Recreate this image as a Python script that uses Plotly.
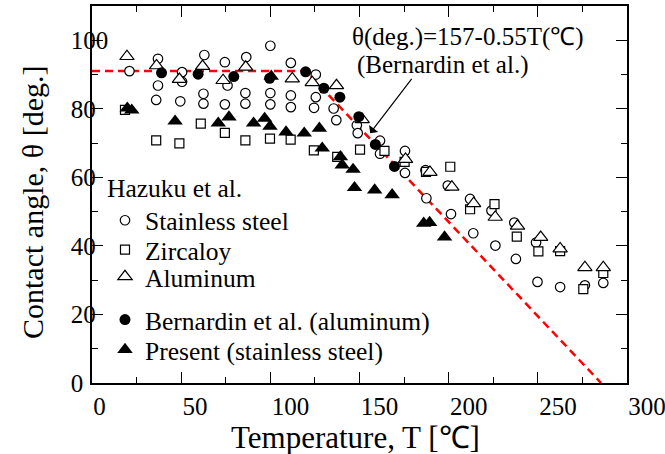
import plotly.graph_objects as go

# ---- measured contact angles (T in degC, theta in deg) ----
# Hazuku et al., stainless steel
ss_T = [21, 37, 37, 36, 50.5, 50.5, 49.5, 63, 62.5, 62.5, 74.5, 76, 74.5,
        86.5, 86, 86, 100, 100, 100, 111.5, 111.5, 111.5, 125.5, 125.5, 124.5,
        135.5, 137, 148.5, 149, 161.5, 161.5, 175.5, 175.5, 187, 187.5,
        199.5, 201.3, 212, 213.8, 224, 226.2, 236.8, 237.7, 249, 249.8,
        262.5, 276.4, 286.7]
ss_theta = [91, 94.6, 86.8, 82.6, 90.7, 87.9, 82.2, 95.7, 84.4, 81.5, 93.6, 86.8, 81.3,
            95.1, 84.6, 81.5, 98.4, 84.6, 81.3, 93.4, 83.9, 80.5, 90, 83.4, 80.3,
            80.1, 76.7, 75.2, 72.9, 70.7, 66.9, 67.7, 61.3, 62.1, 53.9,
            57.6, 49.3, 53.7, 43.7, 50.3, 40.1, 46.8, 36.2, 41, 29.5,
            28, 28.5, 29.2]

# Hazuku et al., Zircaloy
zr_T = [18.5, 36, 49, 61, 74.5, 86, 99.8, 111.4, 124.4, 137.5, 150.3, 164,
        175.3, 187.3, 200.9, 212, 225.7, 238.2, 250.3, 262.5, 275.5, 286.7]
zr_theta = [79.7, 70.8, 69.9, 75.7, 73, 70.8, 71.3, 71, 67.9, 66, 68.1, 67.7,
            64.5, 61.6, 63.1, 50.7, 52.2, 42.7, 38.4, 38.5, 27.4, 32.1]

# Hazuku et al., aluminum
al_T = [19.6, 36.2, 49, 62, 73.5, 86.2, 112.3, 123.5, 137.1, 151.5, 175.8,
        189.5, 201.8, 214, 226.1, 238.6, 251.6, 262.5, 276.4, 286.7]
al_theta = [95.3, 92.6, 88.6, 92.4, 88.3, 92.2, 88.8, 87.7, 86.8, 76.9, 65.3,
            61.5, 57.2, 52.4, 48.4, 45.8, 42.5, 39.2, 33.7, 33.7]

# Bernardin et al., aluminum
bd_T = [39, 59.5, 79.5, 99.6, 119.8, 130, 139, 149.6, 158.9, 169.6]
bd_theta = [90.5, 90.1, 89.4, 88.9, 90.8, 86, 83.4, 77.7, 69.6, 63.2]

# Present study, stainless steel
pr_T = [19.8, 22.3, 46.6, 70.8, 76.8, 90.6, 96.8, 99.8, 100.5, 108.8, 119,
        127.5, 129.1, 139.3, 140.3, 146.4, 147.2, 158.5, 168.3, 186, 189.3, 197.7]
pr_theta = [80.2, 79.6, 76.4, 75.8, 77.6, 75.8, 77.2, 74.9, 89.5, 73.2, 72.9,
            74.3, 68.5, 66, 63.6, 62.3, 57, 56.3, 54.9, 46.6, 46.8, 42.6]

# Bernardin correlation: theta = 157 - 0.55 T, capped by the low-temperature plateau
fit_a, fit_b = 157.0, 0.55
plateau = 91.0
T_knee = (fit_a - plateau) / fit_b
T_zero = fit_a / fit_b
fit_T = [0.0, T_knee, T_zero]
fit_theta = [plateau, fit_a - fit_b * T_knee, fit_a - fit_b * T_zero]

x_ticks = [0, 50, 100, 150, 200, 250, 300]
y_ticks = [0, 20, 40, 60, 80, 100]

SERIF = "Liberation Serif"
BLACK = "#000000"
LEG_FONT = dict(family=SERIF, size=25.5, color=BLACK)

# page / plot-area geometry in pixels
W, H = 665, 454
ML, MR, MT, MB = 92, 38, 6, 71
PW, PH = W - ML - MR, H - MT - MB


def px_x(p):
    return (p - ML) / PW


def px_y(p):
    return 1 - (p - MT) / PH


fig = go.Figure()

fig.add_trace(go.Scatter(
    x=fit_T, y=fit_theta, mode="lines", showlegend=False,
    line=dict(color="#ff0000", width=2.5, dash="8px,5px"), hoverinfo="skip"))

open_line = dict(color=BLACK, width=1.2)
fig.add_trace(go.Scatter(
    x=ss_T, y=ss_theta, mode="markers", name="Stainless steel", legend="legend",
    marker=dict(symbol="circle", size=9.5, color="white", line=open_line)))
fig.add_trace(go.Scatter(
    x=zr_T, y=zr_theta, mode="markers", name="Zircaloy", legend="legend2",
    marker=dict(symbol="square", size=9, color="white", line=open_line)))
fig.add_trace(go.Scatter(
    x=al_T, y=al_theta, mode="markers", name="Aluminum", legend="legend3",
    marker=dict(symbol="triangle-up", size=12.5, color="white", line=open_line)))
fig.add_trace(go.Scatter(
    x=bd_T, y=bd_theta, mode="markers", name="Bernardin et al. (aluminum)",
    legend="legend4",
    marker=dict(symbol="circle", size=11, color=BLACK, line=dict(width=0))))
fig.add_trace(go.Scatter(
    x=pr_T, y=pr_theta, mode="markers", name="Present (stainless steel)",
    legend="legend5",
    marker=dict(symbol="triangle-up", size=13.5, color=BLACK, line=dict(width=0))))

axis_common = dict(
    showline=True, linecolor=BLACK, linewidth=1.5, mirror="allticks",
    ticks="inside", ticklen=11, tickwidth=1.2, tickcolor=BLACK,
    showgrid=False, zeroline=False, ticklabeloverflow="allow",
    tickfont=dict(family=SERIF, size=25, color=BLACK),
)

fig.update_xaxes(
    **axis_common, range=[0, 300], tickvals=x_ticks,
    ticklabelposition="outside right",
    minor=dict(dtick=25, ticks="inside", ticklen=6, tickwidth=1.2, tickcolor=BLACK),
)
fig.update_yaxes(
    **axis_common, range=[0, 110], tickvals=y_ticks,
    ticklabelposition="inside", ticklabelstandoff=-30,
    minor=dict(dtick=10, ticks="inside", ticklen=6, tickwidth=1.2, tickcolor=BLACK),
)

# axis titles
fig.add_annotation(
    x=px_x(355), y=px_y(437), xref="paper", yref="paper",
    xanchor="center", yanchor="middle", showarrow=False,
    text="Temperature, T [\u2103]", font=dict(family=SERIF, size=31, color=BLACK))
fig.add_annotation(
    x=px_x(32), y=px_y(203), xref="paper", yref="paper", textangle=-90,
    xanchor="center", yanchor="middle", showarrow=False,
    text="Contact angle, \u03b8 [deg.]", font=dict(family=SERIF, size=30, color=BLACK))

# correlation label with arrow to the line
fig.add_annotation(
    x=T_knee + 36, y=72.9, ax=179.9, ay=89.2, xref="x", yref="y",
    axref="x", ayref="y", text="", showarrow=True,
    arrowhead=1, arrowsize=1.6, arrowwidth=1.2, arrowcolor=BLACK, standoff=0)
# base size sets the line pitch, the spans carry the glyph size
fig.add_annotation(
    x=px_x(350), y=px_y(51), xref="paper", yref="paper", xanchor="left", yanchor="middle",
    text=("<span style='font-size:25px'>\u03b8(deg.)=157-0.55T(\u2103)</span><br>"
          "<span style='font-size:25px'>\u2009(Bernardin et al.)</span>"),
    showarrow=False, align="left",
    font=dict(family=SERIF, size=21.5, color=BLACK))


def leg(ypix, title=None, anchor="middle"):
    d = dict(x=px_x(105), y=px_y(ypix), xanchor="left", yanchor=anchor,
             bgcolor="rgba(0,0,0,0)", borderwidth=0, font=LEG_FONT)
    if title:
        d["title"] = dict(text=title, font=LEG_FONT)
    return d


fig.update_layout(
    width=W, height=H,
    margin=dict(l=ML, r=MR, t=MT, b=MB, autoexpand=False),
    paper_bgcolor="white", plot_bgcolor="white",
    font=dict(family=SERIF, color=BLACK),
    legend=leg(164, "Hazuku et al.", "top"),
    legend2=leg(250),
    legend3=leg(277),
    legend4=leg(320),
    legend5=leg(350),
)

fig.write_html("out.html")
